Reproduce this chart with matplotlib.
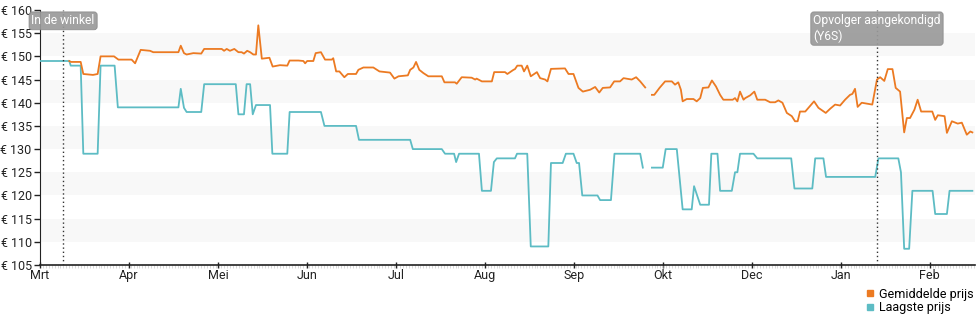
import matplotlib.pyplot as plt
from matplotlib.lines import Line2D
import matplotlib.transforms as mtransforms
import numpy as np

plt.rcParams['font.family'] = ['Roboto', 'DejaVu Sans']

# Dagen sinds 1 maart
maanden = ["Mrt", "Apr", "Mei", "Jun", "Jul", "Aug", "Sep", "Okt", "Dec", "Jan", "Feb"]
maand_dagen = [0, 30.4, 60.8, 91.2, 121.6, 152.0, 182.4, 212.8, 243.2, 273.6, 304.0]

# Gemiddelde prijs (nan = geen data)
gem_dag = [10.0, 10.6, 13.9, 14.8, 18.1, 19.7, 20.7, 25.3, 26.8, 31.3, 32.5, 34.4, 37.6, 38.7,
           47.3, 48.1, 49.2, 50.1, 52.4, 55.1, 56.1, 62.1, 62.9, 63.8, 64.9, 66.4, 67.8, 68.9,
           69.7, 70.8, 71.8, 72.9, 73.8, 74.6, 75.8, 78.4, 79.5, 82.0, 84.5, 85.3, 88.3, 90.0,
           90.6, 91.3, 93.4, 94.2, 96.0, 97.4, 99.7, 100.2, 101.2, 102.3, 104.0, 105.2, 108.0,
           108.8, 110.5, 113.9, 116.0, 119.6, 121.1, 122.5, 125.7, 126.5, 127.6, 128.5, 129.6,
           131.0, 132.7, 137.3, 138.2, 141.8, 142.4, 144.1, 147.5, 148.7, 149.2, 151.0, 154.4,
           155.2, 158.9, 159.7, 161.8, 162.3, 163.1, 164.6, 165.4, 166.5, 167.7, 169.8, 170.9,
           172.6, 173.4, 174.6, 179.4, 180.6, 182.3, 184.0, 185.5, 188.0, 189.7, 191.1, 192.3,
           194.8, 196.2, 198.2, 199.4, 202.2, 203.7, 205.1, 206.8, 208.0,
           209.1, 209.9, 211.7, 213.6, 215.9, 217.0, 218.1, 219.0, 219.6, 221.0, 223.3, 224.4,
           225.6, 226.5, 228.4, 229.6, 231.0, 232.4, 233.5, 236.7, 237.5, 238.3, 239.2, 240.4,
           241.0, 242.7, 244.1, 245.1, 247.8, 249.5, 251.2, 252.3, 253.7, 255.2, 256.9, 258.0,
           258.9, 259.7, 261.5, 262.6, 264.5, 266.0, 268.5, 270.0, 271.7, 273.4, 275.1, 276.8,
           277.6, 278.5, 279.4, 280.8, 284.4, 286.0, 287.1, 288.5, 289.7, 291.3, 292.4, 293.9,
           295.3, 296.2, 297.3, 298.8, 299.9, 301.1, 304.9, 305.9, 306.8, 309.1, 309.9, 311.6,
           313.6, 315.0, 316.7, 317.9, 318.6]
gem_prijs = [149.0, 148.8, 148.8, 146.2, 146.0, 146.2, 150.0, 150.0, 149.3, 149.3, 148.5, 151.4,
             151.2, 150.9, 150.9, 152.3, 150.7, 150.4, 150.7, 150.6, 151.6, 151.6, 151.2, 151.6,
             151.2, 151.6, 150.9, 150.9, 150.6, 151.2, 150.9, 150.4, 150.4, 156.7, 149.5, 149.7,
             147.8, 148.1, 148.0, 149.1, 149.1, 149.0, 148.5, 149.0, 149.0, 150.7, 150.9, 149.3,
             149.3, 149.6, 146.75, 146.75, 145.5, 146.2, 146.2, 147.1, 147.6, 147.6, 146.75,
             146.5, 145.2, 145.7, 145.9, 147.1, 147.6, 148.8, 147.1, 146.4, 145.7, 145.7, 144.4,
             144.4, 144.1, 145.5, 145.4, 145.0, 145.2, 144.6, 144.6, 146.6, 146.6, 146.2, 147.1,
             147.25, 148.0, 148.0, 146.75, 148.0, 145.7, 146.6, 145.3, 145.0, 144.6, 147.3, 147.4,
             146.2, 146.2, 143.2, 142.4, 142.8, 143.4, 142.2, 143.2, 143.3, 144.6, 144.6, 145.3,
             145.0, 145.5, 144.6, 143.3, np.nan,
             141.7, 141.7, 143.2, 144.6, 144.6, 143.9, 144.4, 142.8, 140.3, 140.8, 140.8, 140.3,
             141.0, 143.2, 143.3, 144.8, 143.5, 141.7, 140.65, 140.65, 141.0, 140.3, 142.4, 140.65,
             141.0, 141.6, 142.4, 140.65, 140.65, 140.1, 140.1, 140.5, 140.0, 137.8, 137.1, 136.0,
             136.0, 138.1, 138.1, 138.9, 140.3, 138.9, 137.8, 138.7, 139.6, 139.4, 140.65, 141.7,
             141.9, 143.0, 139.1, 140.0, 139.6, 145.0, 145.5, 144.7, 147.25, 147.25, 143.2, 142.4,
             133.6, 136.7, 136.7, 138.5, 140.65, 138.1, 138.1, 136.3, 137.3, 137.1, 133.5, 136.0,
             135.5, 135.7, 133.1, 133.8, 133.6]

# Laagste prijs
laag_dag = [0.0, 10.0, 10.5, 13.9, 14.8, 19.7, 20.7, 25.5, 26.6, 47.3, 48.1, 49.2, 50.1, 55.1,
            56.1, 66.9, 67.8, 69.7, 70.6, 71.8, 72.7, 73.8, 78.6, 79.4, 84.5, 85.3, 96.0, 97.2,
            108.0, 109.0, 126.5, 127.4, 137.3, 138.4, 141.5, 142.2, 143.2, 150.0, 151.0, 154.1,
            155.1, 156.1, 162.3, 163.0, 166.5, 167.7, 173.7, 174.6, 178.6, 179.7, 182.3, 183.4,
            184.2, 185.3, 190.5, 191.4, 195.1, 196.3, 205.1, 206.0, 208.0,
            209.1, 212.8, 213.8, 217.6, 219.6, 222.7, 223.5, 225.6, 228.6, 229.4, 231.5, 232.4,
            236.4, 237.5, 238.3, 239.2, 243.8, 245.1, 256.7, 257.8, 263.9, 264.9, 267.7, 268.6,
            285.4, 286.5, 293.3, 294.2, 295.3, 297.0, 298.1, 305.0, 305.9, 309.9, 310.8, 318.6]
laag_prijs = [149, 149, 148, 148, 129, 129, 148, 148, 139, 139, 143, 138.9, 138, 138,
              144, 144, 137.5, 137.5, 144, 144, 137.5, 139.5, 139.5, 129, 129, 138, 138, 135,
              135, 132, 132, 130, 130, 129, 129, 127.2, 129, 129, 121, 121,
              127.2, 128, 128, 129, 129, 109, 109, 127, 127, 129, 129, 127,
              127, 120, 120, 119, 119, 129, 129, 126, np.nan,
              126, 126, 130, 130, 117, 117, 122, 118, 118, 129, 129, 121,
              121, 125, 125, 129, 129, 128, 128, 121.5, 121.5, 128, 128, 124,
              124, 128, 128, 125, 108.5, 108.5, 121, 121, 116, 116, 121, 121]

# Gebeurtenissen
gebeurtenis_dag = [7.9, 286.0]
gebeurtenis_tekst = ["In de winkel", "Opvolger aangekondigd\n(Y6S)"]

oranje = "#ec7a22"
turquoise = "#5dbcc4"

fig = plt.figure(figsize=(9.8, 3.25), dpi=100)
ax = fig.add_axes([40 / 980, 60 / 325, 935 / 980, 255 / 325])

# Afwisselende grijze banden
for onder in range(110, 160, 10):
    ax.axhspan(onder, onder + 5, color="#f8f8f8", lw=0, zorder=0)

ax.plot(laag_dag, laag_prijs, color=turquoise, lw=1.3, zorder=3)
ax.plot(gem_dag, gem_prijs, color=oranje, lw=1.3, zorder=3)

trans = mtransforms.blended_transform_factory(ax.transData, ax.transAxes)
for dag, tekst in zip(gebeurtenis_dag, gebeurtenis_tekst):
    ax.axvline(dag, color="#333333", lw=1, ls=(0, (1, 2)), zorder=4)
    ax.text(dag, 0.983, tekst, transform=trans, ha="center", va="top",
            multialignment="left", color="white", fontsize=8.7, zorder=5,
            clip_on=False,
            bbox=dict(boxstyle="round,pad=0.2,rounding_size=0.25", fc="#9a9a9a",
                      ec="#8a8a8a", lw=0.6, alpha=0.92))

ax.set_xlim(0, 319.5)
ax.set_ylim(105, 160)
ax.set_yticks(range(105, 161, 5))
ax.set_yticklabels([f"€ {v}" for v in range(105, 161, 5)])
ax.set_xticks(maand_dagen)
ax.set_xticklabels(maanden)
ax.set_xticks(np.arange(0, 320, 1.0), minor=True)

ax.tick_params(axis="y", length=4, width=1, colors="#222222", labelsize=9, pad=2)
ax.tick_params(axis="x", which="major", length=4, width=1, direction="inout",
               colors="#222222", labelsize=9, pad=1)
ax.tick_params(axis="x", which="minor", length=2, width=0.4, color="#bbbbbb")

for kant in ["top", "right"]:
    ax.spines[kant].set_visible(False)
ax.spines["left"].set_color("#222222")
ax.spines["bottom"].set_color("#222222")
ax.spines["bottom"].set_linewidth(1.2)

handles = [Line2D([], [], marker="s", ls="", color=oranje, markersize=5),
           Line2D([], [], marker="s", ls="", color=turquoise, markersize=5)]
fig.legend(handles, ["Gemiddelde prijs", "Laagste prijs"], loc="upper right",
           bbox_to_anchor=(0.993, 0.115), frameon=False, fontsize=9,
           handlelength=0.7, handletextpad=0.3, labelspacing=0.05, borderpad=0,
           borderaxespad=0)

fig.savefig("out.png", dpi=100)
